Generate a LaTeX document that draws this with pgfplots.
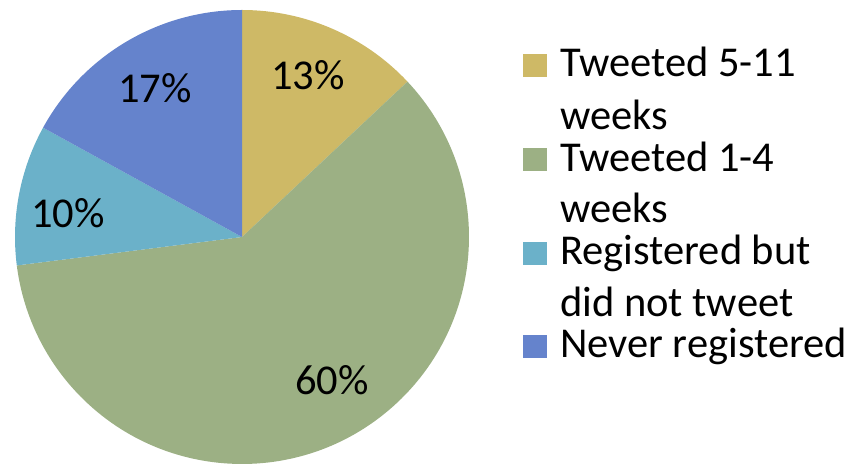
\documentclass[border=0pt]{standalone}
\usepackage{pgfplots}
\pgfplotsset{compat=1.18}
\usepackage{fontspec}
\setmainfont{Carlito}
\definecolor{cgold}{RGB}{206,185,102}
\definecolor{cgreen}{RGB}{156,176,132}
\definecolor{cteal}{RGB}{107,177,201}
\definecolor{cblue}{RGB}{101,131,204}
\begin{document}
\fontsize{42.5}{50}\selectfont
\begin{tikzpicture}
\begin{axis}[x=1pt, y=1pt, xmin=0, xmax=852, ymin=0, ymax=465,
  hide axis, clip=false, anchor=origin, at={(0,0)}]
\gdef\cum{0}
\foreach \v/\c/\lx/\ly in {13/cgold/308/390, 60/cgreen/332/85, 10/cteal/68/252, 17/cblue/155/377} {
  \pgfmathsetmacro\a{90-3.6*\cum}
  \pgfmathsetmacro\b{90-3.6*(\cum+\v)}
  \pgfmathsetmacro\sx{242+227*cos(\a)}
  \pgfmathsetmacro\sy{228+227*sin(\a)}
  \edef\tmp{\noexpand\fill[\c] (axis cs:242,228) -- (axis cs:\sx,\sy) arc[start angle=\a, end angle=\b, radius=227pt] -- cycle;
    \noexpand\node[inner sep=0pt, anchor=center] at (axis cs:\lx,\ly) {\v\noexpand\%};}
  \tmp
  \pgfmathsetmacro\newcum{\cum+\v}
  \xdef\cum{\newcum}
}
% legend
\fill[cgold]  (axis cs:523,388) rectangle (axis cs:547,411);
\fill[cgreen] (axis cs:523,294) rectangle (axis cs:547,317);
\fill[cteal]  (axis cs:523,200) rectangle (axis cs:547,223);
\fill[cblue]  (axis cs:523,107) rectangle (axis cs:547,130);
\node[inner sep=0pt, anchor=base west] at (axis cs:560,388) {Tweeted 5-11};
\node[inner sep=0pt, anchor=base west] at (axis cs:560,335) {weeks};
\node[inner sep=0pt, anchor=base west] at (axis cs:560,293) {Tweeted 1-4};
\node[inner sep=0pt, anchor=base west] at (axis cs:560,242) {weeks};
\node[inner sep=0pt, anchor=base west] at (axis cs:560,200) {Registered but};
\node[inner sep=0pt, anchor=base west] at (axis cs:560,148) {did not tweet};
\node[inner sep=0pt, anchor=base west] at (axis cs:560,107) {Never registered};
\end{axis}
\pgfresetboundingbox
\path[use as bounding box] (0,0) rectangle (852pt,465pt);
\end{tikzpicture}
\end{document}
